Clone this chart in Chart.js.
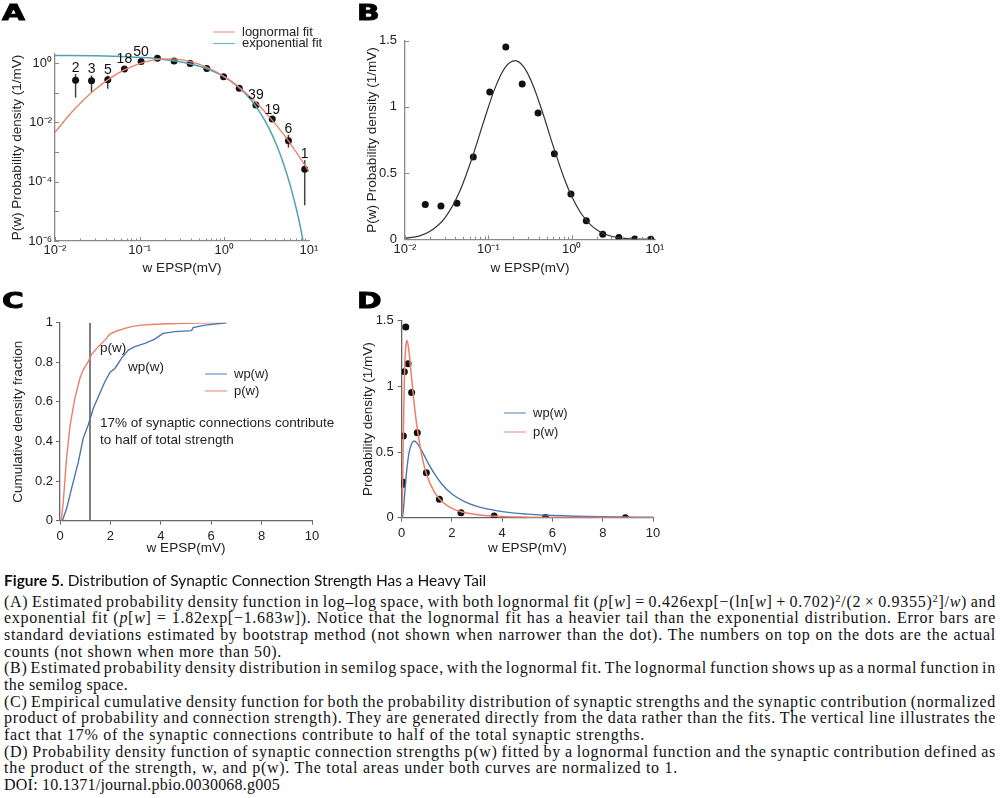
<!DOCTYPE html>
<html>
<head>
<meta charset="utf-8">
<script src="https://cdn.jsdelivr.net/npm/chart.js"></script>
<style>
body { margin:0; width:1000px; height:798px; background:#fff; position:relative; overflow:hidden; }
canvas { position:absolute; }
.lbl { position:absolute; font:bold 22px 'DejaVu Sans', sans-serif; line-height:1; color:#000;
       transform:scaleX(1.35); transform-origin:0 0; -webkit-text-stroke:0.9px #000; }
#ttl { position:absolute; left:4px; top:570px; font:15.5px Lato, sans-serif; line-height:20px; color:#111; white-space:nowrap; }
#cap { position:absolute; left:4px; top:593.6px; font:16px 'Liberation Serif', serif; line-height:16.7px; color:#111; }
#cap .ln { height:16.7px; white-space:nowrap; }
#cap sup { font-size:0.66em; line-height:0; vertical-align:0.5em; }
</style>
</head>
<body>
<canvas id="a" width="340" height="290" style="left:0;top:0"></canvas>
<canvas id="b" width="340" height="290" style="left:345px;top:0"></canvas>
<canvas id="c" width="345" height="280" style="left:0;top:285px"></canvas>
<canvas id="d" width="340" height="280" style="left:345px;top:285px"></canvas>

<div class="lbl" style="left:2px;top:2px">A</div>
<div class="lbl" style="left:357px;top:2px">B</div>
<div class="lbl" style="left:2px;top:290px">C</div>
<div class="lbl" style="left:357px;top:290px">D</div>

<div id="ttl"><span><b>Figure 5.</b> Distribution of Synaptic Connection Strength Has a Heavy Tail</span></div>
<div id="cap">
<div class="ln j"><span>(A) Estimated probability density function in log–log space, with both lognormal fit (<i>p</i>[<i>w</i>] = 0.426exp[−(ln[<i>w</i>] + 0.702)<sup>2</sup>/(2 × 0.9355)<sup>2</sup>]/<i>w</i>) and</span></div>
<div class="ln j"><span>exponential fit (<i>p</i>[<i>w</i>] = 1.82exp[−1.683<i>w</i>]). Notice that the lognormal fit has a heavier tail than the exponential distribution. Error bars are</span></div>
<div class="ln j"><span>standard deviations estimated by bootstrap method (not shown when narrower than the dot). The numbers on top on the dots are the actual</span></div>
<div class="ln" data-w="278"><span>counts (not shown when more than 50).</span></div>
<div class="ln j"><span>(B) Estimated probability density distribution in semilog space, with the lognormal fit. The lognormal function shows up as a normal function in</span></div>
<div class="ln" data-w="124"><span>the semilog space.</span></div>
<div class="ln j"><span>(C) Empirical cumulative density function for both the probability distribution of synaptic strengths and the synaptic contribution (normalized</span></div>
<div class="ln j"><span>product of probability and connection strength). They are generated directly from the data rather than the fits. The vertical line illustrates the</span></div>
<div class="ln" data-w="641"><span>fact that 17% of the synaptic connections contribute to half of the total synaptic strengths.</span></div>
<div class="ln j"><span>(D) Probability density function of synaptic connection strengths p(w) fitted by a lognormal function and the synaptic contribution defined as</span></div>
<div class="ln" data-w="674"><span>the product of the strength, w, and p(w). The total areas under both curves are normalized to 1.</span></div>
<div class="ln" data-w="276"><span>DOI: 10.1371/journal.pbio.0030068.g005</span></div>
</div>

<script>
// measured EPSP bins (mV) and estimated density (1/mV)
const epsp    = [0.0175, 0.027, 0.042, 0.066, 0.104, 0.162, 0.255, 0.395, 0.62, 0.98, 1.5, 2.36, 3.68, 5.72, 8.9];
const density = [0.262, 0.252, 0.272, 0.622, 1.112, 1.452, 1.173, 0.954, 0.647, 0.342, 0.141, 0.038, 0.0128, 0.0024, 0.00026];
const counts  = ['2', '3', '5', '18', '50', '', '', '', '', '', '', '39', '19', '6', '1'];
const errHigh = [0.42, 0.38, 0.37, null, null, null, null, null, null, null, null, null, null, 0.0038, 0.00053];
const errLow  = [0.068, 0.105, 0.135, null, null, null, null, null, null, null, null, null, null, 0.0014, 0.000016];

// panel A fits
const aLogX = [0.01, 0.015, 0.02, 0.03, 0.045, 0.065, 0.1, 0.15, 0.22, 0.33, 0.5, 0.75, 1.1, 1.6, 2.4, 3.5, 5.2, 7.5, 10];
const aLogY = [0.0046, 0.0186, 0.0447, 0.129, 0.308, 0.571, 0.956, 1.267, 1.38, 1.247, 0.916, 0.556, 0.29, 0.129, 0.0444, 0.0138, 0.0034, 0.00077, 0.00022];
const aExpX = [0.01, 0.03, 0.07, 0.11, 0.16, 0.25, 0.39, 0.59, 0.92, 1.44, 2.0, 2.6, 3.4, 4.2, 5.0, 6.0, 7.0, 7.8, 8.5];
const aExpY = [1.79, 1.73, 1.62, 1.51, 1.39, 1.19, 0.944, 0.674, 0.386, 0.161, 0.0628, 0.0229, 0.006, 0.00155, 0.0004, 0.000075, 0.000014, 0.0000036, 0.000001];

// panel B fit (semilog)
const bFitX = [0.01, 0.015, 0.02, 0.03, 0.045, 0.065, 0.09, 0.12, 0.16, 0.21, 0.27, 0.35, 0.45, 0.6, 0.8, 1.0, 1.3, 1.7, 2.2, 3, 4, 6, 10];
const bFitY = [0.007, 0.026, 0.06, 0.16, 0.357, 0.629, 0.909, 1.14, 1.30, 1.35, 1.296, 1.151, 0.954, 0.705, 0.473, 0.325, 0.195, 0.107, 0.055, 0.023, 0.009, 0.002, 0.0003];

// panel C empirical cumulative fractions
const cPX  = [0.05, 0.13, 0.26, 0.40, 0.59, 0.79, 0.92, 1.12, 1.25, 1.52, 1.78, 1.98, 2.25, 2.58, 2.84, 3.24, 3.8, 4.3, 5.0, 5.8, 6.6];
const cPY  = [0, 0.096, 0.315, 0.483, 0.618, 0.719, 0.761, 0.803, 0.84, 0.879, 0.912, 0.943, 0.958, 0.971, 0.98, 0.988, 0.992, 0.995, 0.997, 0.999, 1.0];
const cWX  = [0.09, 0.26, 0.46, 0.73, 0.92, 1.12, 1.32, 1.52, 1.78, 1.98, 2.18, 2.44, 2.71, 2.97, 3.37, 3.76, 4.09, 4.56, 5.22, 5.28, 5.75, 6.6];
const cWY  = [0, 0.06, 0.163, 0.298, 0.416, 0.483, 0.567, 0.626, 0.702, 0.749, 0.769, 0.82, 0.862, 0.879, 0.896, 0.917, 0.946, 0.955, 0.96, 0.975, 0.988, 1.0];
const cCut = 1.19;

// panel D fitted densities (linear axes)
const dPX = [0, 0.02, 0.04, 0.06, 0.08, 0.1, 0.13, 0.16, 0.2, 0.25, 0.3, 0.4, 0.5, 0.6, 0.8, 1.0, 1.3, 1.6, 2.0, 2.5, 3.0, 4.0, 5.0, 6.0, 8.0, 10];
const dPY = [0, 0.06, 0.289, 0.563, 0.807, 0.999, 1.195, 1.30, 1.35, 1.322, 1.247, 1.051, 0.863, 0.705, 0.473, 0.325, 0.195, 0.123, 0.071, 0.039, 0.023, 0.009, 0.004, 0.002, 0.0006, 0.0003];
const dWX = [0, 0.02, 0.05, 0.1, 0.15, 0.2, 0.3, 0.4, 0.5, 0.6, 0.8, 1.0, 1.3, 1.6, 2, 2.5, 3, 4, 5, 6, 8, 10];
const dWY = [0, 0.002, 0.029, 0.134, 0.256, 0.362, 0.502, 0.565, 0.584, 0.57, 0.509, 0.435, 0.335, 0.255, 0.18, 0.122, 0.086, 0.046, 0.027, 0.017, 0.007, 0.003];

// tick labels
const logTicks   = [0.01, 0.1, 1, 10];
const logLabels  = ['10⁻²', '10⁻¹', '10⁰', '10¹'];
const aYTicks    = [1e-6, 1e-4, 1e-2, 1];
const aYLabels   = ['10⁻⁶', '10⁻⁴', '10⁻²', '10⁰'];
const halfTicks  = [0, 0.5, 1, 1.5];
const halfLabels = ['0', '0.5', '1', '1.5'];
const fracTicks  = [0, 0.2, 0.4, 0.6, 0.8, 1];
const fracLabels = ['0', '0.2', '0.4', '0.6', '0.8', '1'];
const mvTicks    = [0, 2, 4, 6, 8, 10];
const mvLabels   = ['0', '2', '4', '6', '8', '10'];

const ORANGE = '#ec7f6a';
const TEAL = '#4fa3b3';
const BLUE = '#4a76b4';
const FONT = "'Liberation Sans', Arial, sans-serif";

Chart.defaults.font.family = FONT;
Chart.defaults.font.size = 13;
Chart.defaults.color = '#222';
Chart.defaults.animation = false;
Chart.defaults.responsive = false;
Chart.defaults.plugins.legend.display = false;
Chart.defaults.plugins.tooltip.enabled = false;

const pts = (xs, ys) => xs.map((x, i) => ({ x: x, y: ys[i] }));

function curve(xs, ys, color, width, order) {
  return { data: pts(xs, ys), showLine: true, borderColor: color, borderWidth: width,
           pointRadius: 0, cubicInterpolationMode: 'monotone', order: order };
}
function dots(order) {
  return { data: pts(epsp, density), pointRadius: 3.5, backgroundColor: '#111', borderWidth: 0, order: order };
}

// one axis, fixed size so the plot area lands where the figure has it
function axis(type, min, max, ticks, labels, size, title, titlePad, inner, pad) {
  const horiz = size.h !== undefined;
  return {
    type: type, min: min, max: max,
    afterFit: s => { if (horiz) s.height = size.h; else s.width = size.w; },
    afterBuildTicks: s => { s.ticks = ticks.map(v => ({ value: v })); },
    ticks: { callback: (v, i) => labels[i], padding: pad, autoSkip: false, maxRotation: 0 },
    grid: inner ? { display: false, drawTicks: false }
                : { display: true, drawOnChartArea: false, drawTicks: true, tickLength: 4, color: '#666' },
    border: { display: true, color: inner ? '#8a8a8a' : '#666', width: 1.3 },
    title: { display: true, text: title, font: { size: 13.5 },
             padding: horiz ? { top: 0, bottom: titlePad } : { top: titlePad, bottom: 0 } }
  };
}

function drawLegend(ctx, items, x, y, dy) {
  ctx.save();
  ctx.font = '13px ' + FONT;
  ctx.textBaseline = 'middle';
  ctx.fillStyle = '#222';
  items.forEach((it, i) => {
    const yy = y + i * dy;
    ctx.strokeStyle = it.color;
    ctx.lineWidth = 1.2;
    ctx.globalAlpha = 0.8;
    ctx.beginPath(); ctx.moveTo(x, yy); ctx.lineTo(x + 22, yy); ctx.stroke();
    ctx.globalAlpha = 1;
    ctx.fillText(it.label, x + 29, yy);
  });
  ctx.restore();
}

// small inward ticks for the log panels (A, B)
const innerTicks = {
  id: 'innerTicks',
  afterDraw(chart, args, opts) {
    const { ctx, scales: { x, y } } = chart;
    ctx.save();
    ctx.strokeStyle = '#8a8a8a';
    ctx.lineWidth = 1;
    ctx.beginPath();
    for (const d of [0.01, 0.1, 1]) {
      for (let m = 1; m <= 9; m++) {
        const px = Math.round(x.getPixelForValue(d * m)) + 0.5;
        ctx.moveTo(px, x.top); ctx.lineTo(px, x.top - (m === 1 ? 4 : 2.5));
      }
    }
    opts.y.forEach(v => {
      const py = Math.round(y.getPixelForValue(v)) + 0.5;
      ctx.moveTo(y.right, py); ctx.lineTo(y.right + 4, py);
    });
    ctx.stroke();
    ctx.restore();
  }
};

// panel A extras: error bars, counts, legend
const panelA = {
  id: 'panelA',
  beforeDatasetsDraw(chart) {
    const { ctx, scales: { x, y } } = chart;
    ctx.save();
    ctx.strokeStyle = '#444';
    ctx.lineWidth = 1.5;
    epsp.forEach((w, i) => {
      if (errHigh[i] == null) return;
      const px = x.getPixelForValue(w);
      ctx.beginPath();
      ctx.moveTo(px, y.getPixelForValue(errHigh[i]));
      ctx.lineTo(px, y.getPixelForValue(errLow[i]));
      ctx.stroke();
    });
    ctx.restore();
  },
  afterDatasetsDraw(chart) {
    const { ctx, scales: { y } } = chart;
    const meta = chart.getDatasetMeta(2);
    ctx.save();
    ctx.font = '14px ' + FONT;
    ctx.fillStyle = '#111';
    ctx.textAlign = 'center';
    ctx.textBaseline = 'alphabetic';
    counts.forEach((c, i) => {
      if (!c) return;
      const p = meta.data[i];
      let top = p.y - 3.6;
      if (errHigh[i] != null) top = Math.min(top, y.getPixelForValue(errHigh[i]));
      ctx.fillText(c, p.x, top - 2);
    });
    ctx.restore();
    drawLegend(ctx, [{ label: 'lognormal fit', color: ORANGE }, { label: 'exponential fit', color: TEAL }], 213, 32, 11.5);
  }
};

new Chart(document.getElementById('a'), {
  type: 'scatter',
  data: { datasets: [
    curve(aLogX, aLogY, ORANGE, 1.3, 1),
    curve(aExpX, aExpY, TEAL, 1.5, 2),
    dots(3)
  ] },
  options: {
    layout: { padding: { left: 0, top: 54, right: 31, bottom: 0 } },
    scales: {
      x: axis('logarithmic', 0.01, 10, logTicks, logLabels, { h: 49 }, 'w EPSP(mV)', 14, true, 2),
      y: axis('logarithmic', 1e-6, 2, aYTicks, aYLabels, { w: 55 }, 'P(w) Probability density (1/mV)', 9, true, 3)
    },
    plugins: { innerTicks: { y: [1e-6, 1e-5, 1e-4, 1e-3, 1e-2, 1e-1, 1] } }
  },
  plugins: [innerTicks, panelA]
});

new Chart(document.getElementById('b'), {
  type: 'scatter',
  data: { datasets: [
    curve(bFitX, bFitY, '#333', 1.2, 1),
    dots(2)
  ] },
  options: {
    layout: { padding: { left: 0, top: 40.7, right: 30, bottom: 0 } },
    scales: {
      x: axis('logarithmic', 0.01, 10, logTicks, logLabels, { h: 50.7 }, 'w EPSP(mV)', 14, true, 2),
      y: axis('linear', 0, 1.5, halfTicks, halfLabels, { w: 60 }, 'P(w) Probability density (1/mV)', 19, true, 8)
    },
    plugins: { innerTicks: { y: halfTicks } }
  },
  plugins: [innerTicks]
});

// panel C extras: annotations and legend
const panelC = {
  id: 'panelC',
  afterDatasetsDraw(chart) {
    const { ctx, scales: { x, y } } = chart;
    ctx.save();
    ctx.font = '13.5px ' + FONT;
    ctx.fillStyle = '#222';
    ctx.textBaseline = 'middle';
    ctx.fillText('p(w)', x.getPixelForValue(1.59), y.getPixelForValue(0.872));
    ctx.fillText('wp(w)', x.getPixelForValue(2.70), y.getPixelForValue(0.776));
    ctx.fillText('17% of synaptic connections contribute', x.getPixelForValue(1.59), y.getPixelForValue(0.493));
    ctx.fillText('to half of total strength', x.getPixelForValue(1.59), y.getPixelForValue(0.408));
    ctx.restore();
    drawLegend(ctx, [{ label: 'wp(w)', color: BLUE }, { label: 'p(w)', color: ORANGE }], 205, 89, 17);
  }
};

new Chart(document.getElementById('c'), {
  type: 'scatter',
  data: { datasets: [
    { data: pts(cPX, cPY), showLine: true, borderColor: ORANGE, borderWidth: 1.4, pointRadius: 0, order: 2 },
    { data: pts(cWX, cWY), showLine: true, borderColor: BLUE, borderWidth: 1.4, pointRadius: 0, order: 1 },
    { data: [{ x: cCut, y: 0 }, { x: cCut, y: 1 }], showLine: true, borderColor: '#555', borderWidth: 1.5, pointRadius: 0, order: 3 }
  ] },
  options: {
    layout: { padding: { left: 0, top: 37.7, right: 33, bottom: 0 } },
    scales: {
      x: axis('linear', 0, 10, mvTicks, mvLabels, { h: 44.3 }, 'w EPSP(mV)', 9, false, 4),
      y: axis('linear', 0, 1, fracTicks, fracLabels, { w: 60 }, 'Cumulative density fraction', 10, false, 3)
    }
  },
  plugins: [panelC]
});

const panelD = {
  id: 'panelD',
  afterDatasetsDraw(chart) {
    drawLegend(chart.ctx, [{ label: 'wp(w)', color: BLUE }, { label: 'p(w)', color: ORANGE }], 159, 128, 19);
  }
};

new Chart(document.getElementById('d'), {
  type: 'scatter',
  data: { datasets: [
    curve(dPX, dPY, ORANGE, 1.5, 1),
    curve(dWX, dWY, BLUE, 1.4, 2),
    dots(3)
  ] },
  options: {
    layout: { padding: { left: 0, top: 35.7, right: 32, bottom: 0 } },
    scales: {
      x: axis('linear', 0, 10, mvTicks, mvLabels, { h: 47.3 }, 'w EPSP(mV)', 9, false, 4),
      y: axis('linear', 0, 1.5, halfTicks, halfLabels, { w: 56.7 }, 'Probability density (1/mV)', 15, false, 4)
    }
  },
  plugins: [panelD]
});

// caption: stretch each line to the width it has in the figure
const spans = [...document.querySelectorAll('#cap .ln span')];
const found = [];
spans.forEach(s => {
  const target = +s.parentNode.dataset.w;
  if (!target) return;
  const n = s.textContent.length;
  const d = (target - s.getBoundingClientRect().width) / n;
  s.style.letterSpacing = d + 'px';
  if (n > 80) found.push(d);
});
const ls = found.length ? found.reduce((a, b) => a + b, 0) / found.length : 0;
spans.forEach(s => {
  if (!s.parentNode.classList.contains('j')) return;
  s.style.letterSpacing = ls + 'px';
  const gaps = (s.textContent.match(/ /g) || []).length;
  s.style.wordSpacing = ((992 - s.getBoundingClientRect().width) / gaps) + 'px';
});
const ttl = document.querySelector('#ttl span');
ttl.style.letterSpacing = ((483 - ttl.getBoundingClientRect().width) / ttl.textContent.length) + 'px';
</script>
</body>
</html>
